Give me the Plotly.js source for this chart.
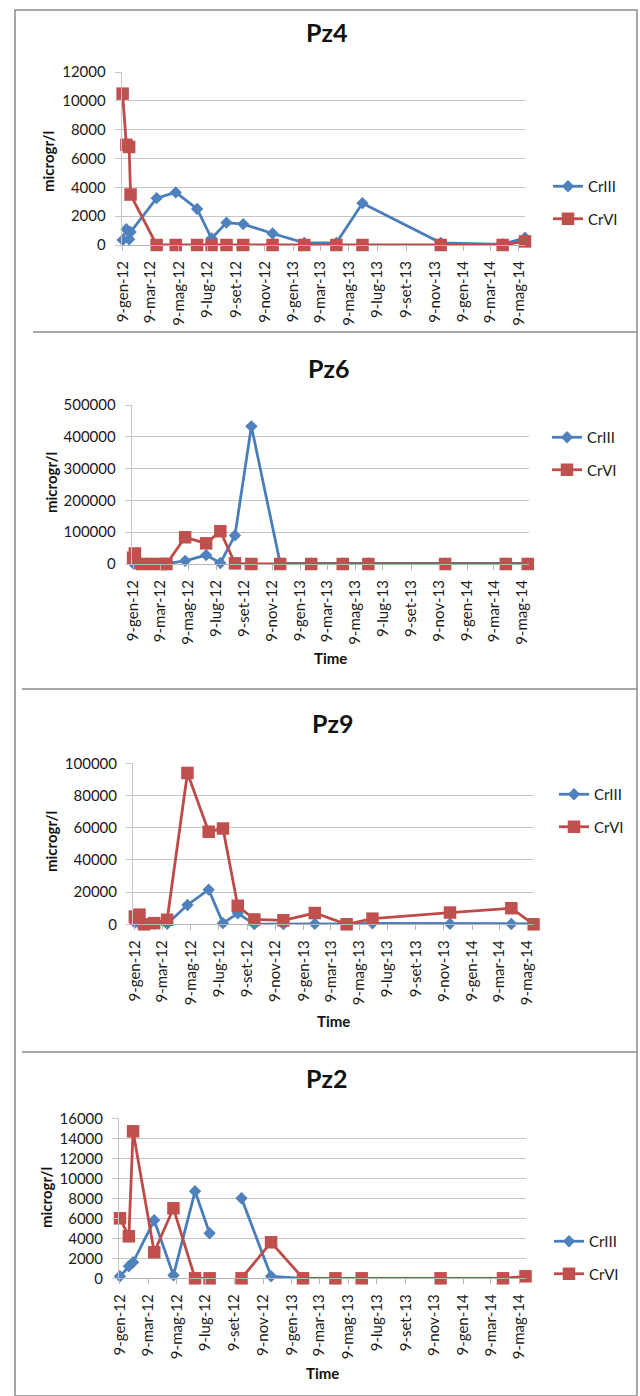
<!DOCTYPE html>
<html>
<head>
<meta charset="utf-8">
<script src="https://cdn.plot.ly/plotly-3.0.1.min.js"></script>
<style>html,body{margin:0;padding:0;background:#fff}#chart{width:640px;height:1396px}</style>
</head>
<body>
<div id="chart"></div>
<script>
// ---- tick labels ----
const tickDates = ['2012-01-09','2012-03-09','2012-05-09','2012-07-09','2012-09-09','2012-11-09',
  '2013-01-09','2013-03-09','2013-05-09','2013-07-09','2013-09-09','2013-11-09',
  '2014-01-09','2014-03-09','2014-05-09'];
const tickLabels = ['9-gen-12','9-mar-12','9-mag-12','9-lug-12','9-set-12','9-nov-12',
  '9-gen-13','9-mar-13','9-mag-13','9-lug-13','9-set-13','9-nov-13',
  '9-gen-14','9-mar-14','9-mag-14'];
const seriesNames = ['CrIII','CrVI'];
const panelTitles = ['Pz4','Pz6','Pz9','Pz2'];

// ---- Pz4 ----
const pz4Dates = ['2012-01-09','2012-01-17','2012-01-23','2012-01-26','2012-03-22','2012-05-02','2012-06-17',
  '2012-07-18','2012-08-19','2012-09-24','2012-11-26','2013-02-02','2013-04-12','2013-06-07','2013-11-22',
  '2014-04-04','2014-05-22'];
const pz4CrIII = [350,1100,400,900,3250,3650,2500,450,1550,1450,800,150,150,2900,150,50,500];
const pz4CrVI  = [10500,6950,6800,3500,0,0,0,0,0,0,0,0,0,0,0,0,250];

// ---- Pz6 ----
const pz6Dates = ['2012-01-09','2012-01-13','2012-01-28','2012-02-19','2012-03-13','2012-03-22','2012-05-02',
  '2012-06-17','2012-07-18','2012-08-19','2012-09-24','2012-11-26','2013-02-02','2013-04-12','2013-06-07',
  '2013-11-22','2014-04-04','2014-05-22'];
const pz6CrIII = [2000,1500,1000,1000,1000,1500,10000,28000,3000,90000,433000,2000,2000,2000,2000,2000,2000,2000];
const pz6CrVI  = [20000,33000,0,0,0,0,84000,65000,103000,2000,0,0,0,0,0,0,0,0];

// ---- Pz9 ----
const pz9Dates = ['2012-01-09','2012-01-19','2012-01-29','2012-02-20','2012-03-19','2012-05-02','2012-06-17',
  '2012-07-18','2012-08-19','2012-09-24','2012-11-26','2013-02-02','2013-04-12','2013-06-07','2013-11-22',
  '2014-04-04','2014-05-22'];
const pz9CrIII = [1000,500,200,300,300,12000,21500,700,6800,100,100,300,300,600,300,200,300];
const pz9CrVI  = [4800,6000,0,700,2800,94000,57500,59500,11500,3000,2500,7000,0,3500,7300,10000,0];

// ---- Pz2 ----
const pz2Dates = ['2012-01-09','2012-01-28','2012-02-06','2012-03-22','2012-05-02','2012-06-17','2012-07-18',
  '2012-08-19','2012-09-24','2012-11-26','2013-02-02','2013-04-12','2013-06-07','2013-11-22','2014-04-04',
  '2014-05-22'];
const pz2CrIII = [200,1200,1600,5800,300,8700,4500,null,8000,200,0,null,null,null,null,null];
const pz2CrVI  = [6000,4200,14700,2600,7000,0,0,null,0,3600,0,0,0,0,0,200];

// ---- layout helpers ----
const W = 640, H = 1396;
const px = x => x / W, py = y => 1 - y / H;
const FONT = 'Lato, "Open Sans", Arial, sans-serif';
const TXT = '#1a1a1a';
const BLUE_L = '#4A7EBB', BLUE_M = '#4F81BD', RED_L = '#BE4B48', RED_M = '#C0504D';

const panels = [
  {dates: pz4Dates, a: pz4CrIII, b: pz4CrVI, box: [121.7, 525, 72, 245], yr: [0, 12000], dt: 2000,
   xr: ['2012-01-07', '2014-05-22'], tx: 326, ty: 32, ytx: 48, yty: 162, leg: [548, 170], time: null},
  {dates: pz6Dates, a: pz6CrIII, b: pz6CrVI, box: [131.7, 528.7, 405, 564], yr: [0, 500000], dt: 100000,
   xr: ['2012-01-06', '2014-05-24'], tx: 328, ty: 368, ytx: 51, yty: 483, leg: [547, 421], time: 658},
  {dates: pz9Dates, a: pz9CrIII, b: pz9CrVI, box: [133, 533.5, 763.3, 924.3], yr: [0, 100000], dt: 20000,
   xr: ['2012-01-05', '2014-05-22'], tx: 332, ty: 723, ytx: 51, yty: 842, leg: [554, 778], time: 1021},
  {dates: pz2Dates, a: pz2CrIII, b: pz2CrVI, box: [119, 526, 1118.3, 1278.3], yr: [0, 16000], dt: 2000,
   xr: ['2012-01-07', '2014-05-23'], tx: 326, ty: 1078, ytx: 46, yty: 1198, leg: [549, 1225], time: 1373}
];

const data = [];
const layout = {
  width: W, height: H,
  margin: {l: 0, r: 0, t: 0, b: 0},
  paper_bgcolor: '#fff', plot_bgcolor: '#fff',
  font: {family: FONT, color: TXT},
  annotations: [], shapes: []
};

panels.forEach((p, i) => {
  const n = i === 0 ? '' : String(i + 1);
  const xa = 'x' + n, ya = 'y' + n, lg = 'legend' + n;
  data.push({
    type: 'scatter', mode: 'lines+markers', name: seriesNames[0],
    x: p.dates, y: p.a, xaxis: xa, yaxis: ya, legend: lg, legendgroup: 'g1',
    line: {color: BLUE_L, width: 2.8}, marker: {symbol: 'diamond', size: 9.5, color: BLUE_M},
    connectgaps: false, cliponaxis: false
  });
  data.push({
    type: 'scatter', mode: 'lines+markers', name: seriesNames[1],
    x: p.dates, y: p.b, xaxis: xa, yaxis: ya, legend: lg, legendgroup: 'g2',
    line: {color: RED_L, width: 2.8}, marker: {symbol: 'square', size: 12.5, color: RED_M},
    connectgaps: false, cliponaxis: false
  });
  layout['xaxis' + n] = {
    type: 'date', domain: [px(p.box[0]), px(p.box[1])], anchor: ya, range: p.xr,
    tickmode: 'array', tickvals: tickDates, ticktext: tickLabels, tickangle: -90,
    showgrid: false, zeroline: false, showline: true, linecolor: '#b5b5b5', linewidth: 1,
    ticks: 'outside', ticklen: 5, tickcolor: '#b5b5b5', ticklabelstandoff: 4,
    tickfont: {family: FONT, size: 15, color: TXT}
  };
  layout['yaxis' + n] = {
    domain: [py(p.box[3]), py(p.box[2])], anchor: xa, range: p.yr, dtick: p.dt, tick0: 0,
    tickformat: 'd', showgrid: true, gridcolor: '#c6c6c6', gridwidth: 1, zeroline: false,
    showline: true, linecolor: '#c6c6c6', linewidth: 1,
    ticks: 'outside', ticklen: 6, tickcolor: '#c6c6c6', ticklabelstandoff: 6,
    tickfont: {family: FONT, size: 15, color: TXT}
  };
  layout[lg] = {
    x: px(p.leg[0]), y: py(p.leg[1]), xanchor: 'left', yanchor: 'top',
    font: {family: FONT, size: 15, color: TXT}, bgcolor: 'rgba(0,0,0,0)',
    traceorder: 'grouped', tracegroupgap: 10
  };
  layout.annotations.push({
    text: '<b>' + panelTitles[i] + '</b>', xref: 'paper', yref: 'paper',
    x: px(p.tx), y: py(p.ty), xanchor: 'center', yanchor: 'middle', showarrow: false,
    font: {family: FONT, size: 25, color: '#111'}
  });
  layout.annotations.push({
    text: '<b>microgr/l</b>', xref: 'paper', yref: 'paper', textangle: -90,
    x: px(p.ytx), y: py(p.yty), xanchor: 'center', yanchor: 'middle', showarrow: false,
    font: {family: FONT, size: 15, color: '#111'}
  });
  if (p.time) {
    layout.annotations.push({
      text: '<b>Time</b>', xref: 'paper', yref: 'paper',
      x: px((p.box[0] + p.box[1]) / 2), y: py(p.time), xanchor: 'center', yanchor: 'middle', showarrow: false,
      font: {family: FONT, size: 15, color: '#111'}
    });
  }
});

// frame and separators
const frame = '#8a8a8a';
layout.shapes.push({type: 'rect', xref: 'paper', yref: 'paper', x0: px(15), x1: px(637), y0: py(1396), y1: py(10),
  line: {color: frame, width: 1.5}});
[[33, 332], [22, 689], [22, 1052]].forEach(s => layout.shapes.push({
  type: 'line', xref: 'paper', yref: 'paper', x0: px(s[0]), x1: px(637), y0: py(s[1]), y1: py(s[1]),
  line: {color: frame, width: 1.5}}));

Plotly.newPlot('chart', data, layout, {displayModeBar: false, staticPlot: true});
</script>
</body>
</html>
